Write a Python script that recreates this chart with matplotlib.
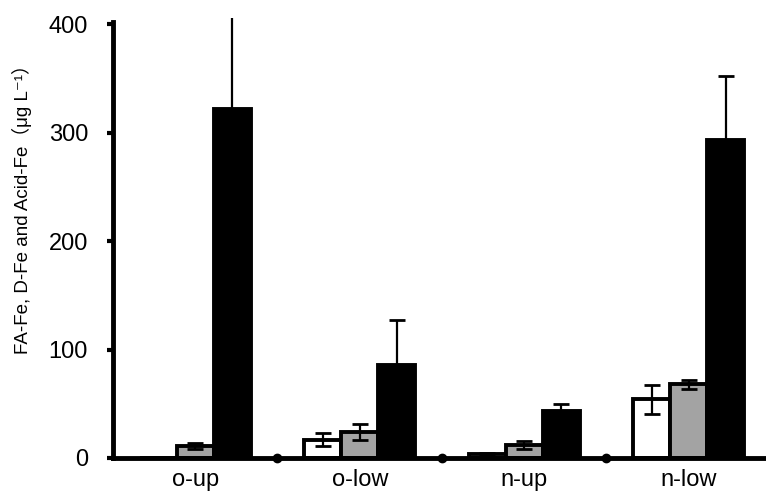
import matplotlib.pyplot as plt
import numpy as np

plt.rcParams['font.family'] = ['Liberation Sans', 'Noto Sans CJK JP', 'DejaVu Sans']

sites = ["o-up", "o-low", "n-up", "n-low"]
fa_fe = [0, 17, 4, 54]
fa_err = [0, 6, 1, 13]
d_fe = [11, 24, 12, 68]
d_err = [3, 7, 4, 4]
acid_fe = [322, 86, 43, 293]
acid_err = [100, 41, 7, 59]

x = np.arange(len(sites))
w = 0.225

fig = plt.figure(figsize=(7.66, 4.92), dpi=100)
ax = fig.add_axes([113 / 766, 34 / 492, 653 / 766, 440.5 / 492])

bar_kw = dict(width=w, edgecolor='black', linewidth=2.8, zorder=2)
ax.bar(x - w, fa_fe, color='white', **bar_kw)
ax.bar(x, d_fe, color='#a3a3a3', **bar_kw)
ax.bar(x + w, acid_fe, color='black', **bar_kw)

err_kw = dict(fmt='none', ecolor='black', elinewidth=1.6, capsize=6, capthick=2, zorder=3)
ax.errorbar(x - w, fa_fe, yerr=fa_err, **err_kw)
ax.errorbar(x, d_fe, yerr=d_err, **err_kw)
ax.errorbar(x + w, acid_fe, yerr=acid_err, **err_kw)

# little dots on the axis between the groups
sep = x[:-1] + 0.5
ax.plot(sep, np.zeros_like(sep), 'o', color='black', ms=6, clip_on=False, zorder=4)

ax.set_xlim(-0.5, 3.47)
ax.set_ylim(0, 406)
ax.set_yticks([0, 100, 200, 300, 400])
ax.set_xticks(x)
ax.set_xticklabels(sites, fontsize=17)
ax.tick_params(axis='y', labelsize=17, length=4, width=3, direction='out', pad=14)
ax.tick_params(axis='x', length=0, pad=8)

for s in ['top', 'right']:
    ax.spines[s].set_visible(False)
for s in ['left', 'bottom']:
    ax.spines[s].set_linewidth(3.5)
ax.spines['left'].set_bounds(0, 402)

ax.set_ylabel("FA-Fe, D-Fe and Acid-Fe（μg L⁻¹）", fontsize=13.5)
ax.yaxis.set_label_coords(-0.124, 0.575)

fig.savefig("out.png", dpi=100)
